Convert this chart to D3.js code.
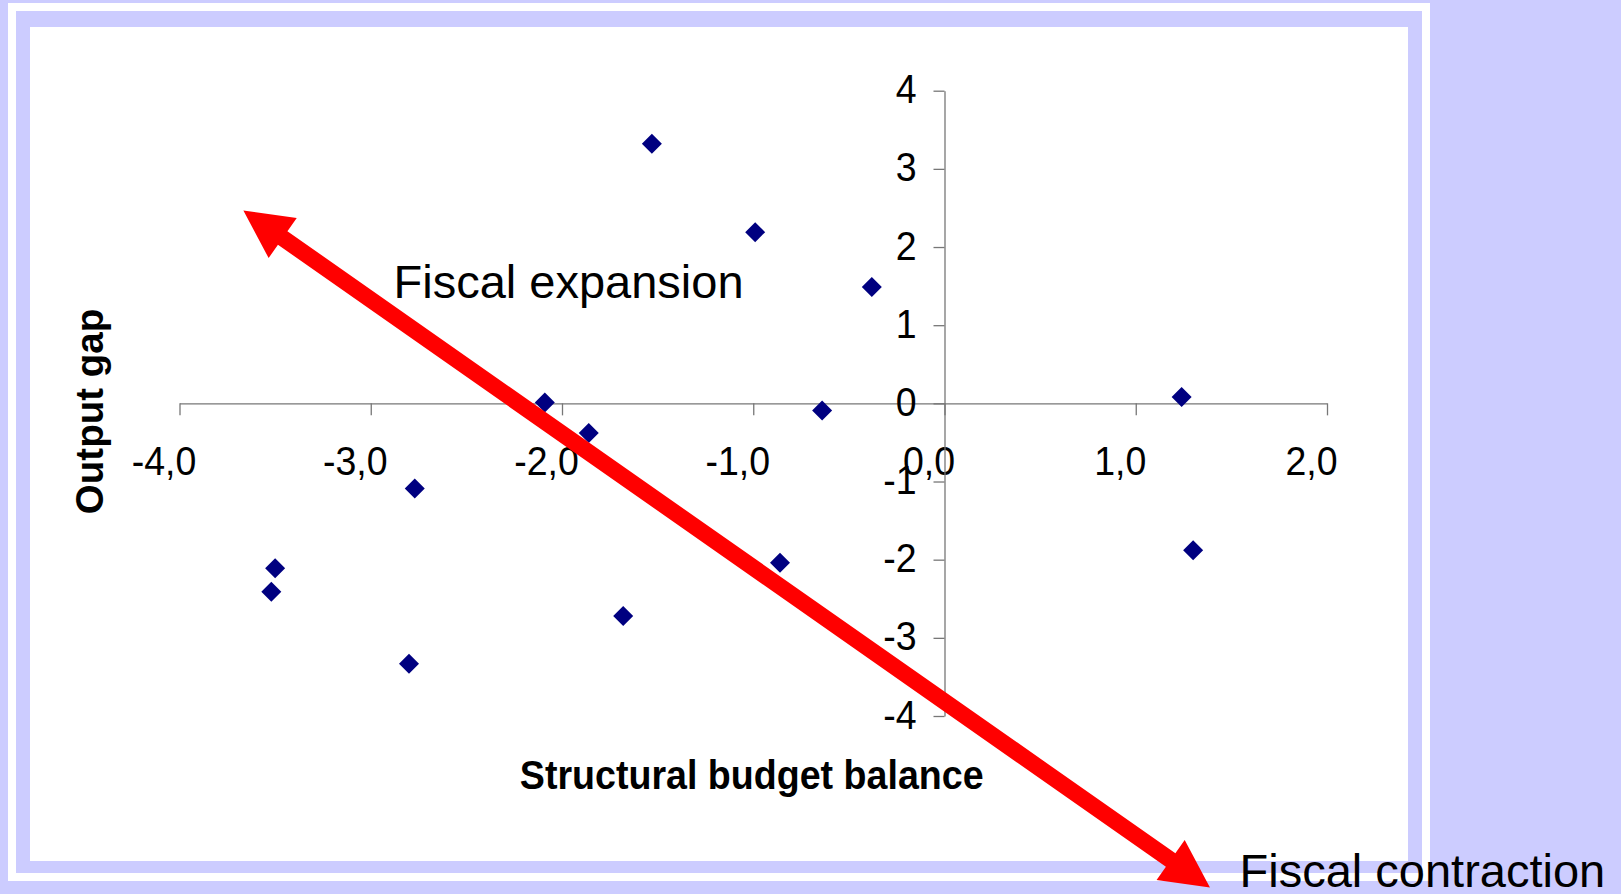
<!DOCTYPE html>
<html>
<head>
<meta charset="utf-8">
<script src="https://cdn.jsdelivr.net/npm/d3@7"></script>
<style>
  html, body { margin: 0; padding: 0; background: #ccccff; overflow: hidden; }
  svg { display: block; }
</style>
</head>
<body>
<svg id="chart" width="1621" height="894"></svg>
<script>
// Structural budget balance (x) vs output gap (y), one point per observation
const balance   = [-1.53, -0.99, -0.38, -2.09, -1.86, -0.64, 1.24, 1.30, -2.77, -3.50, -3.52, -2.80, -1.68, -0.86];
const outputGap = [ 3.32,  2.19,  1.49,  0.01, -0.38, -0.09, 0.08, -1.88, -1.09, -2.11, -2.41, -3.33, -2.72, -2.04];

const xTickValues = [-4, -3, -2, -1, 0, 1, 2];
const yTickValues = [-4, -3, -2, -1, 0, 1, 2, 3, 4];

const xTitle = "Structural budget balance";
const yTitle = "Output gap";
const expansionLabel = "Fiscal expansion";
const contractionLabel = "Fiscal contraction";

// Double-headed arrow tips, in data units
const arrowEnds = [[-3.666, 2.468], [1.388, -6.195]];

const FONT = "'Liberation Sans', Arial, Helvetica, sans-serif";
const LAVENDER = "#ccccff";
const AXIS = "#777777";

const svg = d3.select("#chart");

// Slide frame: white band, lavender band, white chart area
svg.append("rect").attr("x", 8).attr("y", 3).attr("width", 1422).attr("height", 878).attr("fill", "#ffffff");
svg.append("rect").attr("x", 16).attr("y", 11).attr("width", 1406).attr("height", 862).attr("fill", LAVENDER);
svg.append("rect").attr("x", 30).attr("y", 27).attr("width", 1378).attr("height", 834).attr("fill", "#ffffff");

const x = d3.scaleLinear().domain([-4, 2]).range([179.5, 1327]);
const y = d3.scaleLinear().domain([-4, 4]).range([716, 90.7]);

const fmtX = v => v.toFixed(1).replace(".", ",").replace("\u2212", "-");
const fmtY = v => String(v);

// Horizontal axis through y = 0
const gx = svg.append("g")
  .attr("transform", `translate(0,${y(0)})`)
  .call(d3.axisBottom(x).tickValues(xTickValues).tickFormat(fmtX).tickSize(12).tickSizeOuter(0));

// Vertical axis through x = 0
const gy = svg.append("g")
  .attr("transform", `translate(${x(0)},0)`)
  .call(d3.axisLeft(y).tickValues(yTickValues).tickFormat(fmtY).tickSize(11).tickSizeOuter(0));

[gx, gy].forEach(g => {
  g.attr("font-family", FONT).attr("font-size", null);
  g.selectAll("path.domain, .tick line").attr("stroke", AXIS).attr("stroke-width", 1.3);
  g.selectAll(".tick text")
    .attr("fill", "#000")
    .attr("font-size", 37.5)
    .attr("x", 0).attr("y", 0).attr("dy", null);
});

gx.selectAll(".tick text")
  .attr("text-anchor", "middle")
  .attr("transform", "translate(-16,72) scale(1,1.08)");

gy.selectAll(".tick text")
  .attr("text-anchor", "end")
  .attr("transform", "translate(-28,12) scale(1,1.08)");

// Axis titles
svg.append("text")
  .attr("transform", "translate(751.7,789.3) scale(1,1.08)")
  .attr("text-anchor", "middle")
  .attr("font-family", FONT).attr("font-weight", "bold").attr("font-size", 37.6)
  .attr("fill", "#000")
  .text(xTitle);

svg.append("text")
  .attr("transform", "translate(103.3,411.5) rotate(-90)")
  .attr("text-anchor", "middle")
  .attr("font-family", FONT).attr("font-weight", "bold").attr("font-size", 38.5)
  .attr("fill", "#000")
  .text(yTitle);

// Data points: navy diamonds
const points = balance.map((b, i) => ({ b, g: outputGap[i] }));
const diamond = d3.symbol().type(d3.symbolSquare).size(200);
svg.append("g").selectAll("path")
  .data(points)
  .join("path")
  .attr("d", diamond)
  .attr("transform", d => `translate(${x(d.b)},${y(d.g)}) rotate(45)`)
  .attr("fill", "#000080");

// Double-headed red arrow
(function drawArrow() {
  const A = [x(arrowEnds[0][0]), y(arrowEnds[0][1])];
  const B = [x(arrowEnds[1][0]), y(arrowEnds[1][1])];
  const dx = B[0] - A[0], dy = B[1] - A[1];
  const len = Math.hypot(dx, dy);
  const u = [dx / len, dy / len];
  const n = [-u[1], u[0]];
  const headLen = 48, headHalf = 24.5, shaftHalf = 8.25;
  const at = (P, a, b) => [P[0] + u[0] * a + n[0] * b, P[1] + u[1] * a + n[1] * b];
  const pts = [
    A,
    at(A, headLen, headHalf),
    at(A, headLen, shaftHalf),
    at(B, -headLen, shaftHalf),
    at(B, -headLen, headHalf),
    B,
    at(B, -headLen, -headHalf),
    at(B, -headLen, -shaftHalf),
    at(A, headLen, -shaftHalf),
    at(A, headLen, -headHalf)
  ];
  svg.append("path")
    .attr("d", d3.line()(pts) + "Z")
    .attr("fill", "#ff0000");
})();

// Annotation labels
svg.append("text")
  .attr("x", 393.5).attr("y", 298.3)
  .attr("font-family", FONT).attr("font-size", 47).attr("fill", "#000")
  .text(expansionLabel);

svg.append("text")
  .attr("x", 1239.5).attr("y", 887.3)
  .attr("font-family", FONT).attr("font-size", 47).attr("fill", "#000")
  .text(contractionLabel);
</script>
</body>
</html>
